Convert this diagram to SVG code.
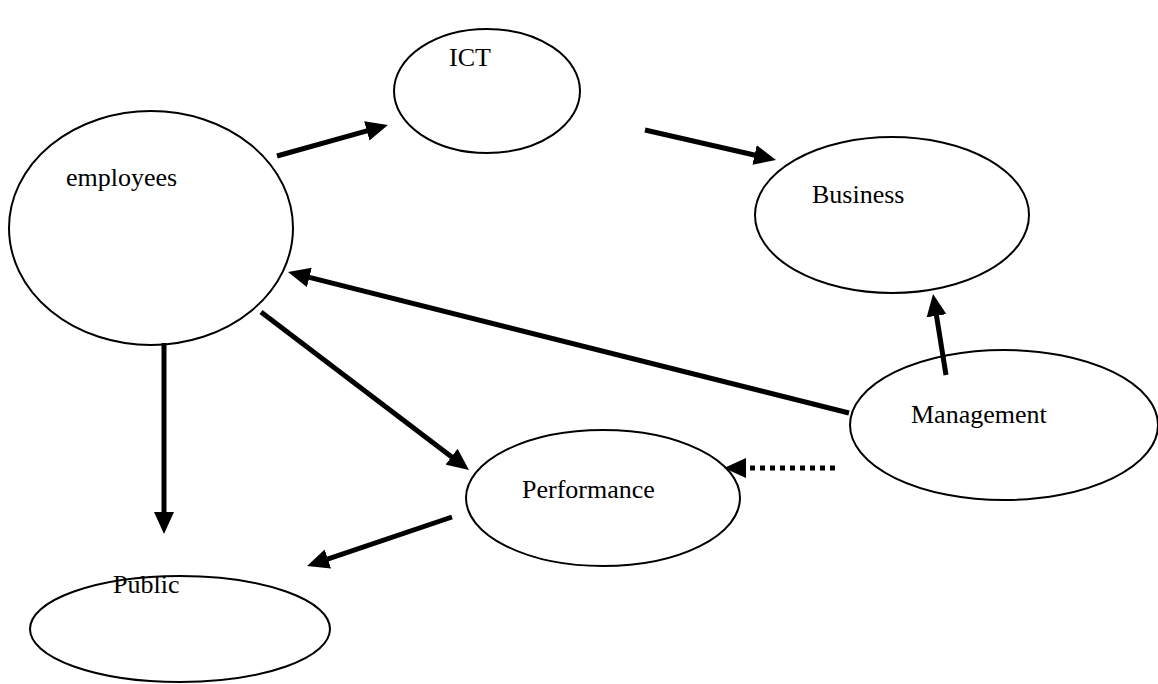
<svg xmlns="http://www.w3.org/2000/svg" width="1158" height="684" viewBox="0 0 1158 684">
  <style>
    .node { fill: #fff; stroke: #000; stroke-width: 2; }
    .label { font-family: "Liberation Serif", "Times New Roman", serif; font-size: 26px; fill: #000; }
    .edge { stroke: #000; stroke-width: 5; fill: none; marker-end: url(#head); }
    .dotted { stroke-dasharray: 5 5; }
  </style>
  <defs>
    <!-- filled arrowhead; lines stop at its base so the shaft never pokes past the tip -->
    <marker id="head" markerUnits="userSpaceOnUse" markerWidth="24" markerHeight="20" refX="2" refY="10" orient="auto">
      <path d="M0,0 L22,10 L0,20 Z" fill="#000"/>
    </marker>
  </defs>
  <rect width="1158" height="684" fill="#fff"/>

  <g id="ict">
    <ellipse class="node" cx="487" cy="91" rx="93" ry="62"/>
    <text class="label" x="449" y="66">ICT</text>
  </g>
  <g id="employees">
    <ellipse class="node" cx="151" cy="228" rx="142" ry="117"/>
    <text class="label" x="66" y="186">employees</text>
  </g>
  <g id="business">
    <ellipse class="node" cx="892" cy="215" rx="137" ry="78"/>
    <text class="label" x="812" y="203">Business</text>
  </g>
  <g id="management">
    <ellipse class="node" cx="1004" cy="425" rx="154" ry="75"/>
    <text class="label" x="911" y="423">Management</text>
  </g>
  <g id="performance">
    <ellipse class="node" cx="603" cy="498" rx="137" ry="68"/>
    <text class="label" x="522" y="498">Performance</text>
  </g>
  <g id="public">
    <ellipse class="node" cx="180" cy="629" rx="150" ry="53"/>
    <text class="label" x="113" y="593">Public</text>
  </g>

  <g id="connectors">
    <line class="edge" x1="277" y1="156" x2="368.7" y2="130.4"/>
    <line class="edge" x1="645" y1="130" x2="756.5" y2="155.5"/>
    <line class="edge" x1="849" y1="413" x2="307.4" y2="276.9"/>
    <line class="edge" x1="946" y1="375" x2="936.2" y2="313.8"/>
    <line class="edge" x1="261" y1="312" x2="453.1" y2="457.9"/>
    <line class="edge" x1="164" y1="343" x2="164" y2="514"/>
    <line class="edge" x1="452" y1="517" x2="326" y2="559.6"/>
    <line class="edge dotted" x1="835" y1="468" x2="744" y2="468"/>
  </g>
</svg>
